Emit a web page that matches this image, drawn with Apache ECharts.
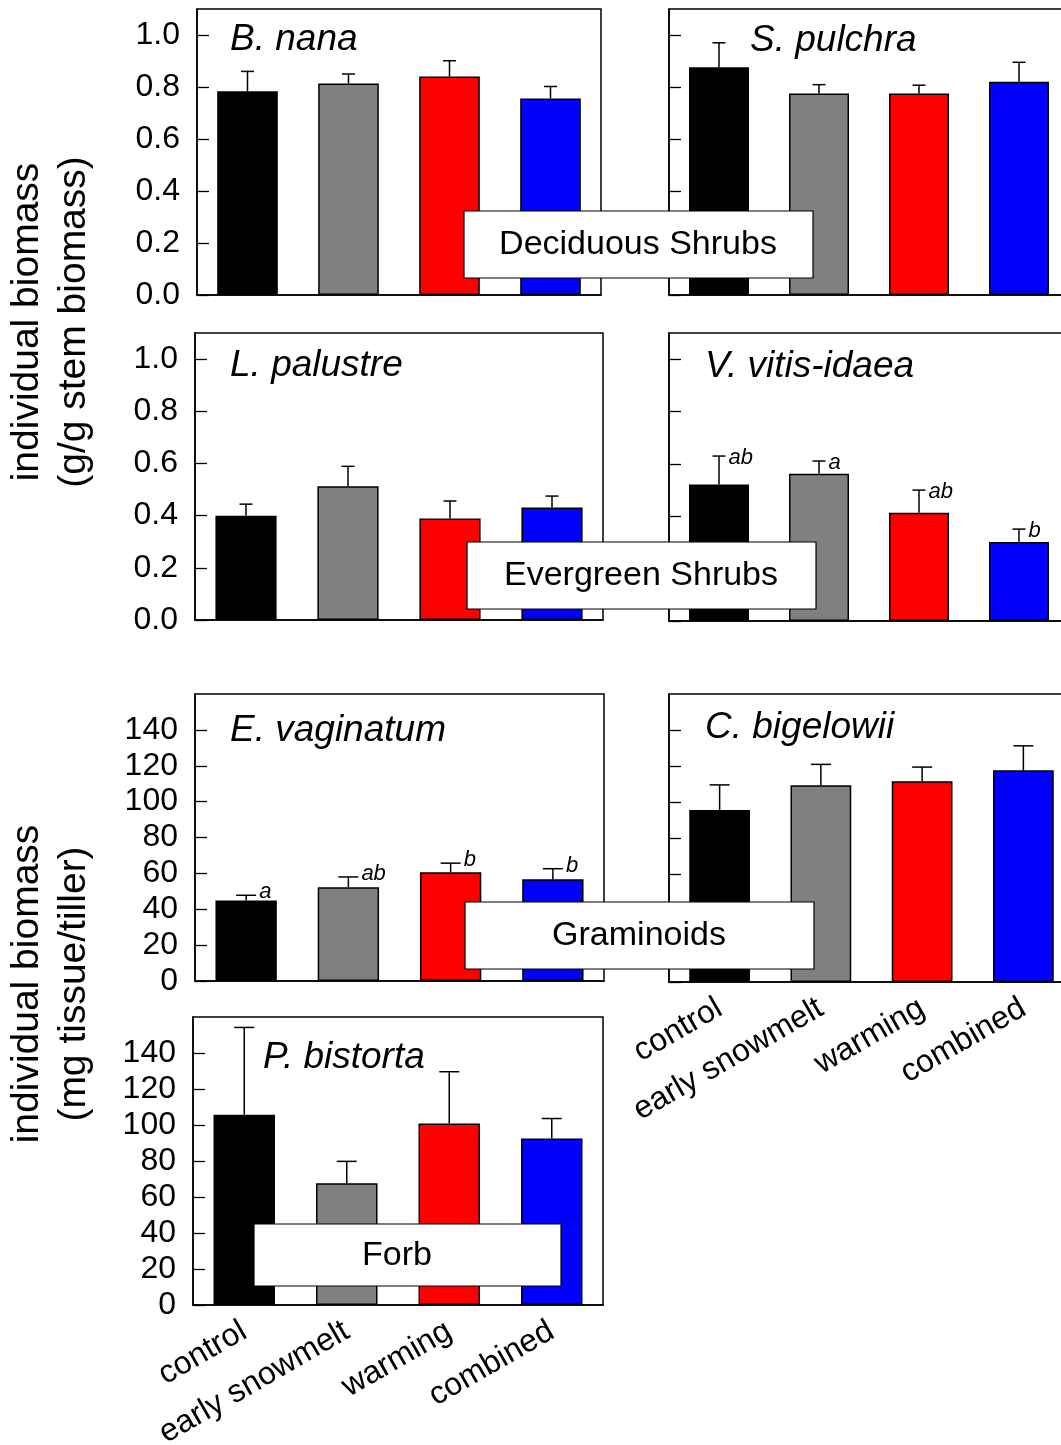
<!DOCTYPE html>
<html>
<head>
<meta charset="utf-8">
<script src="https://cdn.jsdelivr.net/npm/echarts@6/dist/echarts.min.js"></script>
<style>
html,body{margin:0;padding:0;background:#fff;overflow:hidden;}
#chart{width:1080px;height:1445px;}
</style>
</head>
<body>
<div id="chart"></div>
<script>
// ---------- data ----------
const categories = ['control', 'early snowmelt', 'warming', 'combined'];

const bNanaMean = [0.784, 0.813, 0.840, 0.756];
const bNanaSE   = [0.076, 0.037, 0.061, 0.046];

const sPulchraMean = [0.876, 0.775, 0.775, 0.820];
const sPulchraSE   = [0.094, 0.034, 0.032, 0.075];

const lPalustreMean = [0.400, 0.513, 0.389, 0.431];
const lPalustreSE   = [0.044, 0.076, 0.067, 0.044];

const vVitisMean = [0.521, 0.562, 0.413, 0.302];
const vVitisSE   = [0.109, 0.049, 0.087, 0.049];
const vVitisLetters = ['ab', 'a', 'ab', 'b'];

const eVaginatumMean = [44.9, 52.2, 60.6, 56.7];
const eVaginatumSE   = [2.9, 5.8, 5.1, 5.9];
const eVaginatumLetters = ['a', 'ab', 'b', 'b'];

const cBigelowiiMean = [95.5, 109.3, 111.5, 117.6];
const cBigelowiiSE   = [14.0, 11.6, 7.9, 13.6];

const pBistortaMean = [105.7, 67.6, 100.8, 92.5];
const pBistortaSE   = [48.5, 12.2, 28.8, 11.1];

const shrubTicks = [0, 0.2, 0.4, 0.6, 0.8, 1.0];
const herbTicks  = [0, 20, 40, 60, 80, 100, 120, 140];

const speciesNames = ['B. nana', 'S. pulchra', 'L. palustre', 'V. vitis-idaea', 'E. vaginatum', 'C. bigelowii', 'P. bistorta'];
const groupNames = ['Deciduous Shrubs', 'Evergreen Shrubs', 'Graminoids', 'Forb'];
const yTitleShrub = ['individual biomass', '(g/g stem biomass)'];
const yTitleHerb  = ['individual biomass', '(mg tissue/tiller)'];

// ---------- styles / layout ----------
const barColors = ['#000000', '#808080', '#ff0000', '#0000ff'];
const FONT = '"Liberation Sans", Arial, Helvetica, sans-serif';

const panels = [
  {mean: bNanaMean, se: bNanaSE, grid: {left: 197, top: 9, width: 404, height: 286}, kind: 'shrub', yLabels: true, xLabels: false, cap: 6.5, ldy: 2},
  {mean: sPulchraMean, se: sPulchraSE, grid: {left: 669, top: 9, width: 400, height: 286}, kind: 'shrub', yLabels: false, xLabels: false, cap: 6.5, ldy: 2},
  {mean: lPalustreMean, se: lPalustreSE, grid: {left: 195, top: 333, width: 408, height: 287}, kind: 'shrub', yLabels: true, xLabels: false, cap: 6.5, ldy: 2},
  {mean: vVitisMean, se: vVitisSE, letters: vVitisLetters, grid: {left: 669, top: 333, width: 400, height: 288}, kind: 'shrub', yLabels: false, xLabels: false, cap: 6.5, ldy: 2},
  {mean: eVaginatumMean, se: eVaginatumSE, letters: eVaginatumLetters, grid: {left: 195, top: 694, width: 409, height: 287}, kind: 'herb', yLabels: true, xLabels: false, cap: 10, ldy: -3},
  {mean: cBigelowiiMean, se: cBigelowiiSE, grid: {left: 669, top: 694, width: 405, height: 288}, kind: 'herb', yLabels: false, xLabels: true, cap: 10, ldy: -3},
  {mean: pBistortaMean, se: pBistortaSE, grid: {left: 193, top: 1017, width: 410, height: 288}, kind: 'herb', yLabels: true, xLabels: true, cap: 10, ldy: -3}
];

const titlePos = [[230, 40], [750, 41], [230, 366], [705, 367], [230, 731], [705, 728], [263, 1058]];
const groupBoxes = [
  {x: 464, y: 211, w: 349, h: 67, tx: 638, ty: 245},
  {x: 467, y: 542, w: 349, h: 67, tx: 641, ty: 576},
  {x: 465, y: 902, w: 349, h: 67, tx: 639, ty: 936},
  {x: 254, y: 1224, w: 307, h: 62, tx: 397, ty: 1256}
];

const grids = [], xAxes = [], yAxes = [], series = [];

panels.forEach((p, gi) => {
  grids.push(Object.assign({show: true, borderColor: '#000', borderWidth: 1.5, backgroundColor: 'transparent',
    containLabel: false, outerBoundsMode: 'none'}, p.grid));
  xAxes.push({
    type: 'category', gridIndex: gi, data: categories,
    axisLine: {lineStyle: {color: '#000', width: 1.5}},
    axisTick: {show: false},
    axisLabel: {show: p.xLabels, rotate: 30, margin: 24, color: '#000', fontSize: 32, fontFamily: FONT, interval: 0}
  });
  const ticks = p.kind === 'shrub' ? shrubTicks : herbTicks;
  yAxes.push({
    type: 'value', gridIndex: gi, min: 0,
    max: p.kind === 'shrub' ? 1.1 : 160,
    interval: p.kind === 'shrub' ? 0.2 : 20,
    splitLine: {show: false},
    axisLine: {show: true, lineStyle: {color: '#000', width: 1.5}},
    axisTick: {show: true, inside: true, length: 12, lineStyle: {color: '#000', width: 1.3},
      customValues: ticks},
    axisLabel: {
      show: p.yLabels, margin: 17, color: '#000', fontSize: 32, fontFamily: FONT,
      customValues: ticks,
      formatter: v => p.kind === 'shrub' ? Number(v).toFixed(1) : String(Math.round(v))
    }
  });
  series.push({
    type: 'bar', xAxisIndex: gi, yAxisIndex: gi, barWidth: '60%',
    data: p.mean.map((m, i) => ({value: m, itemStyle: {color: barColors[i]}})),
    itemStyle: {borderColor: '#000', borderWidth: 1.5},
    silent: true
  });
  series.push({
    type: 'custom', xAxisIndex: gi, yAxisIndex: gi, silent: true, z: 5,
    data: p.mean.map((m, i) => [i, m, p.se[i]]),
    renderItem: (params, api) => {
      const i = api.value(0), m = api.value(1), e = api.value(2);
      const base = api.coord([i, m]);
      const top = api.coord([i, m + e]);
      const hw = p.cap;
      const children = [
        {type: 'line', shape: {x1: base[0], y1: base[1], x2: top[0], y2: top[1]}, style: {stroke: '#000', lineWidth: 1.5}},
        {type: 'line', shape: {x1: top[0] - hw, y1: top[1], x2: top[0] + hw, y2: top[1]}, style: {stroke: '#000', lineWidth: 1.5}}
      ];
      if (p.letters) {
        children.push({type: 'text', x: top[0] + hw + 3, y: top[1] + p.ldy,
          style: {text: p.letters[params.dataIndex], fill: '#000', font: 'italic 22px ' + FONT, align: 'left', verticalAlign: 'middle'}});
      }
      return {type: 'group', children};
    }
  });
});

const graphics = [];
speciesNames.forEach((name, i) => {
  graphics.push({type: 'text', x: titlePos[i][0], y: titlePos[i][1], z: 50,
    style: {text: name, fill: '#000', font: 'italic 37px ' + FONT, align: 'left', verticalAlign: 'middle'}});
});
groupNames.forEach((name, i) => {
  const b = groupBoxes[i];
  graphics.push({type: 'rect', z: 100, shape: {x: b.x, y: b.y, width: b.w, height: b.h},
    style: {fill: '#fff', stroke: '#000', lineWidth: 1.2}});
  graphics.push({type: 'text', z: 101, x: b.tx, y: b.ty,
    style: {text: name, fill: '#000', font: '34px ' + FONT, align: 'center', verticalAlign: 'middle'}});
});
graphics.push({type: 'text', x: 51, y: 322, rotation: Math.PI / 2, z: 50,
  style: {text: yTitleShrub.join('\n'), fill: '#000', font: '39px ' + FONT, align: 'center', verticalAlign: 'middle', lineHeight: 47}});
graphics.push({type: 'text', x: 51, y: 984, rotation: Math.PI / 2, z: 50,
  style: {text: yTitleHerb.join('\n'), fill: '#000', font: '39px ' + FONT, align: 'center', verticalAlign: 'middle', lineHeight: 47}});

const chart = echarts.init(document.getElementById('chart'), null, {renderer: 'canvas'});
chart.setOption({
  animation: false,
  backgroundColor: '#fff',
  grid: grids, xAxis: xAxes, yAxis: yAxes, series: series,
  graphic: {elements: graphics}
});
</script>
</body>
</html>
